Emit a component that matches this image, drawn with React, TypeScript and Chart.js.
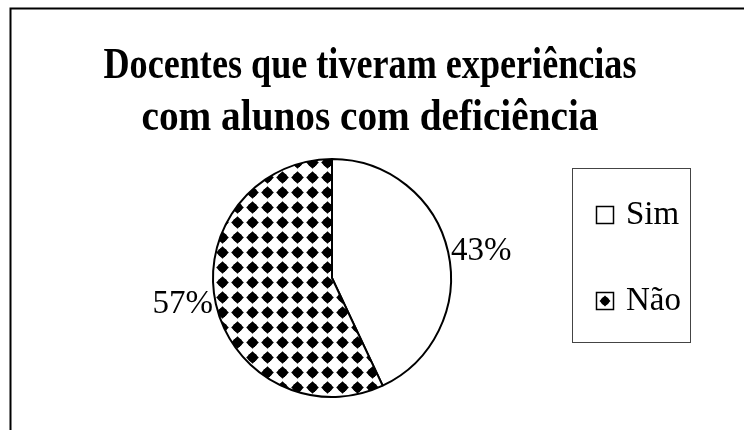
import React, { useEffect, useRef } from "react";
import { Chart, registerables } from "chart.js";

Chart.register(...registerables);

const titleLines = ["Docentes que tiveram experiências", "com alunos com deficiência"];
const categories = ["Sim", "Não"];
const values = [43, 57];
const percentLabels = ["43%", "57%"];

function drawDiamond(g: CanvasRenderingContext2D, cx: number, cy: number, r: number) {
  g.beginPath();
  g.moveTo(cx, cy - r);
  g.lineTo(cx + r, cy);
  g.lineTo(cx, cy + r);
  g.lineTo(cx - r, cy);
  g.closePath();
  g.fill();
  g.beginPath();
  g.arc(cx, cy, r * 0.73, 0, Math.PI * 2);
  g.fill();
}

function makePattern(ctx: CanvasRenderingContext2D) {
  const c = document.createElement("canvas");
  c.width = 15;
  c.height = 15;
  const g = c.getContext("2d") as CanvasRenderingContext2D;
  g.fillStyle = "#fff";
  g.fillRect(0, 0, 15, 15);
  g.fillStyle = "#000";
  for (const dx of [0, -15]) {
    for (const dy of [0, -15]) {
      drawDiamond(g, 12.5 + dx, 12.5 + dy, 6.3);
    }
  }
  return ctx.createPattern(c, "repeat") as CanvasPattern;
}

function fitText(ctx: CanvasRenderingContext2D, text: string, cx: number, y: number, targetW: number) {
  const w = ctx.measureText(text).width;
  const s = targetW / w;
  ctx.save();
  ctx.translate(cx, y);
  ctx.scale(s, 1);
  ctx.textAlign = "center";
  ctx.fillText(text, 0, 0);
  ctx.restore();
}

const decorPlugin = {
  id: "decor",
  afterDraw(chart: any) {
    const ctx: CanvasRenderingContext2D = chart.ctx;
    ctx.save();
    // frame
    ctx.strokeStyle = "#000";
    ctx.lineWidth = 2;
    ctx.beginPath();
    ctx.moveTo(10.5, 430);
    ctx.lineTo(10.5, 8.5);
    ctx.lineTo(744, 8.5);
    ctx.stroke();

    // title (condensed)
    ctx.fillStyle = "#000";
    ctx.font = "bold 44px 'Liberation Serif', 'Times New Roman', serif";
    ctx.textBaseline = "alphabetic";
    fitText(ctx, titleLines[0], 370, 78, 533);
    fitText(ctx, titleLines[1], 370, 130, 457);

    // percent labels
    const meta = chart.getDatasetMeta(0);
    ctx.font = "33px 'Liberation Serif', 'Times New Roman', serif";
    ctx.textBaseline = "middle";
    meta.data.forEach((arc: any, i: number) => {
      const mid = (arc.startAngle + arc.endAngle) / 2;
      const dx = Math.cos(mid);
      const dy = Math.sin(mid);
      const R = arc.outerRadius + 3;
      ctx.textAlign = dx >= 0 ? "left" : "right";
      ctx.fillText(percentLabels[i], arc.x + dx * R, arc.y + dy * R);
    });

    // legend
    ctx.lineWidth = 1;
    ctx.strokeStyle = "#444";
    ctx.strokeRect(572.5, 168.5, 118, 174);
    const rowY = [215, 301];
    categories.forEach((label, i) => {
      const y = rowY[i];
      ctx.fillStyle = "#fff";
      ctx.fillRect(596.5, y - 8.5, 17, 17);
      if (i === 1) {
        ctx.fillStyle = "#000";
        drawDiamond(ctx, 605, y, 5.5);
      }
      ctx.strokeStyle = "#000";
      ctx.lineWidth = 1.5;
      ctx.strokeRect(596.5, y - 8.5, 17, 17);
      ctx.fillStyle = "#000";
      ctx.font = "33px 'Liberation Serif', 'Times New Roman', serif";
      ctx.textAlign = "left";
      ctx.textBaseline = "alphabetic";
      ctx.fillText(label, 626, y + 9);
    });
    ctx.restore();
  },
};

export default function App() {
  const ref = useRef<HTMLCanvasElement | null>(null);
  useEffect(() => {
    const canvas = ref.current;
    if (!canvas) return;
    const ctx = canvas.getContext("2d") as CanvasRenderingContext2D;
    const pattern = makePattern(ctx);
    const chart = new Chart(canvas, {
      type: "pie",
      data: {
        labels: categories,
        datasets: [
          {
            data: values,
            backgroundColor: ["#ffffff", pattern as any],
            borderColor: "#000",
            borderWidth: 2,
          },
        ],
      },
      options: {
        responsive: false,
        animation: false,
        devicePixelRatio: 1,
        events: [],
        layout: { padding: { left: 212, right: 292, top: 158, bottom: 32 } },
        plugins: {
          legend: { display: false },
          tooltip: { enabled: false },
          title: { display: false },
        },
      },
      plugins: [decorPlugin],
    });
    return () => chart.destroy();
  }, []);
  return (
    <div style={{ position: "absolute", left: 0, top: 0, width: 744, height: 430, background: "#fff" }}>
      <canvas ref={ref} width={744} height={430} style={{ display: "block" }} />
    </div>
  );
}
